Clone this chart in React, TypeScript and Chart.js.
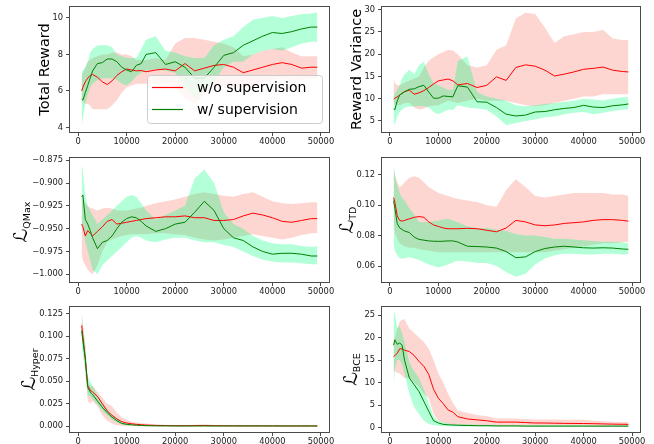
import React, { useEffect, useRef } from "react";
import { Chart, registerables } from "chart.js";

Chart.register(...registerables);

// ---------------- data ----------------
const STEPS = [
  750, 1000, 1500, 2000, 2500, 3000,
  4000, 5000, 6000, 7000, 8000, 9000, 10000, 11000, 12000, 13000, 14000,
  16000, 18000, 20000, 22000, 24000, 26000, 28000, 30000, 32000, 34000, 36000, 38000, 40000, 42000, 44000, 46000, 48000,
  49250,
];
const X_TICKS = [0, 10000, 20000, 30000, 40000, 50000];
const SERIES_NAMES = ["w/o supervision", "w/ supervision"];

// Total Reward
const TR_TICKS = [4, 6, 8, 10];
const TR_WO = [
  6.0, 6.2, 6.5, 6.7, 6.85, 6.9,
  6.75, 6.5, 6.35, 6.55, 6.85, 7.05, 7.2, 7.15, 7.1, 7.12, 7.05,
  7.15, 7.2, 7.1, 7.5, 7.1, 7.25, 7.4, 7.45, 7.3, 7.0, 7.15, 7.3, 7.45, 7.55, 7.45, 7.25, 7.3,
  7.3,
];
const TR_WO_LO = [
  5.5, 5.4, 5.3, 5.3, 5.2, 5.0,
  5.0, 5.0, 5.0, 5.2, 5.5, 5.9, 6.2, 6.3, 6.4, 6.4, 6.4,
  6.4, 6.4, 6.2, 5.6, 5.3, 5.8, 6.2, 6.3, 6.2, 6.0, 6.3, 6.5, 6.6, 6.7, 6.6, 6.6, 6.7,
  6.7,
];
const TR_WO_HI = [
  6.8, 7.0, 7.3, 7.6, 7.7, 7.8,
  7.9, 8.0, 8.0, 8.1, 8.1, 8.0, 8.0, 7.9, 7.7, 7.7, 7.7,
  7.8, 7.7, 8.6, 8.9, 8.9, 8.8, 8.7, 8.6, 8.4, 7.9, 8.0, 8.2, 8.3, 8.4, 8.1, 7.9, 7.9,
  7.9,
];
const TR_W = [
  5.55, 5.5, 5.9, 6.3, 6.7, 7.1,
  7.5, 7.55, 7.75, 7.75, 7.6, 7.3, 7.15, 7.05, 7.4, 7.5, 8.0,
  8.1, 7.45, 7.6, 7.3, 6.7, 6.7, 7.3, 7.95, 8.1, 8.5, 8.75, 9.0, 9.2, 9.15, 9.25, 9.4, 9.5,
  9.5,
];
const TR_W_LO = [
  4.1, 4.5, 5.3, 5.8, 6.2, 6.4,
  6.6, 6.7, 6.7, 6.7, 6.6, 6.4, 6.3, 6.5, 6.8, 7.0, 7.1,
  7.2, 7.1, 7.0, 6.3, 5.6, 6.0, 6.5, 7.3, 7.6, 7.6, 8.0, 8.2, 8.3, 8.2, 8.4, 8.6, 8.7,
  8.7,
];
const TR_W_HI = [
  7.1, 7.1, 7.3, 7.6, 8.1, 8.3,
  8.5, 8.5, 8.5, 8.4, 8.0, 7.9, 7.8, 7.8, 7.8, 8.3, 8.8,
  9.0, 8.2, 8.1, 7.9, 7.8, 7.8, 8.5, 8.8, 9.0, 9.5, 9.9, 10.0, 10.1, 10.0, 10.1, 10.2, 10.25,
  10.3,
];

// Reward Variance
const RV_TICKS = [5, 10, 15, 20, 25, 30];
const RV_WO = [
  9.9, 10.1, 10.4, 10.8, 11.2, 11.6,
  11.9, 11.0, 11.3, 11.8, 12.5, 13.3, 14.0, 14.2, 14.4, 14.0, 13.1,
  13.4, 12.5, 13.0, 14.9, 14.1, 17.0, 17.6, 17.3, 16.4, 15.1, 15.5, 16.0, 16.6, 16.8, 17.1, 16.4, 16.1,
  16.0,
];
const RV_WO_LO = [
  9.0, 8.8, 8.6, 8.5, 8.7, 9.0,
  9.0, 8.0, 7.5, 7.8, 8.3, 8.4, 8.5, 9.0, 9.5, 9.3, 9.0,
  9.5, 10.0, 9.5, 9.5, 9.5, 9.0, 8.5, 8.3, 8.5, 9.0, 9.5, 10.0, 10.5, 10.5, 11.0, 11.0, 11.0,
  11.0,
];
const RV_WO_HI = [
  14.8, 13.5, 13.0, 13.0, 13.3, 13.6,
  14.0, 14.5, 15.0, 17.0, 18.5, 19.3, 20.0, 20.5, 21.0, 20.8, 20.0,
  17.5, 17.0, 17.5, 21.0, 22.0, 28.0, 29.3, 29.0, 26.0, 22.5, 24.0, 24.5, 25.0, 25.0, 25.5, 23.5, 23.2,
  23.2,
];
const RV_W = [
  7.7, 7.5, 9.5, 10.8, 11.2, 11.5,
  12.1, 12.2, 12.7, 13.0, 11.5, 10.1, 10.1, 10.6, 10.5, 10.4, 12.9,
  12.6, 9.3, 9.2, 8.0, 6.5, 6.1, 6.3, 7.0, 7.1, 7.5, 7.8, 8.0, 8.5, 8.1, 8.0, 8.4, 8.6,
  8.8,
];
const RV_W_LO = [
  4.5, 4.2, 6.0, 7.0, 7.5, 8.0,
  8.2, 8.3, 8.3, 8.3, 8.0, 7.0, 6.5, 7.0, 7.5, 7.5, 8.5,
  8.0, 7.8, 7.5, 6.0, 4.0, 4.5, 5.0, 5.3, 5.8, 6.0, 6.5, 6.8, 7.0, 6.5, 6.8, 7.2, 7.5,
  7.6,
];
const RV_W_HI = [
  11.0, 11.0, 12.0, 13.0, 14.5, 15.5,
  16.5, 15.5, 17.5, 18.3, 15.5, 13.5, 13.0, 12.5, 12.0, 12.0, 18.5,
  19.5, 11.5, 10.5, 10.0, 9.5, 8.5, 8.3, 8.5, 8.8, 9.0, 9.3, 9.5, 10.0, 9.8, 9.6, 10.0, 10.3,
  10.3,
];

// L_QMax
const QM_TICKS = [-1.0, -0.975, -0.95, -0.925, -0.9, -0.875];
const QM_WO = [
  -0.945, -0.948, -0.958, -0.952, -0.955, -0.958,
  -0.953, -0.948, -0.942, -0.94, -0.945, -0.944, -0.943, -0.942, -0.941, -0.94, -0.939,
  -0.938, -0.937, -0.937, -0.936, -0.938, -0.938, -0.941, -0.941, -0.94, -0.936, -0.933, -0.935, -0.938, -0.942, -0.943, -0.941, -0.939,
  -0.939,
];
const QM_WO_LO = [
  -0.98, -0.985, -0.99, -0.995, -0.998, -1.0,
  -0.99, -0.975, -0.965, -0.962, -0.96, -0.958, -0.957, -0.956, -0.956, -0.956, -0.956,
  -0.955, -0.955, -0.956, -0.957, -0.96, -0.962, -0.963, -0.962, -0.96, -0.958, -0.956, -0.958, -0.96, -0.962, -0.96, -0.957, -0.955,
  -0.955,
];
const QM_WO_HI = [
  -0.915, -0.918, -0.922, -0.925, -0.927, -0.928,
  -0.93, -0.928, -0.927, -0.928, -0.93, -0.93, -0.93, -0.929, -0.928, -0.927, -0.925,
  -0.922, -0.92, -0.918, -0.915, -0.912, -0.91, -0.912, -0.914, -0.915, -0.912, -0.91, -0.915, -0.92, -0.922, -0.923, -0.922, -0.921,
  -0.921,
];
const QM_W = [
  -0.915, -0.913, -0.94, -0.945, -0.952, -0.96,
  -0.972, -0.965, -0.963, -0.958, -0.95, -0.943, -0.939, -0.937, -0.938, -0.942, -0.947,
  -0.953, -0.95, -0.945, -0.943, -0.932, -0.92, -0.93, -0.95, -0.96, -0.963, -0.97, -0.975, -0.978, -0.977, -0.977, -0.978, -0.98,
  -0.98,
];
const QM_W_LO = [
  -0.95, -0.945, -0.965, -0.975, -0.985, -0.995,
  -1.0, -0.99, -0.985, -0.98, -0.975, -0.97, -0.965, -0.96, -0.958, -0.96, -0.963,
  -0.965, -0.962, -0.96, -0.96, -0.963, -0.965, -0.965, -0.968, -0.97, -0.975, -0.98, -0.984, -0.986, -0.987, -0.987, -0.988, -0.989,
  -0.989,
];
const QM_W_HI = [
  -0.88, -0.885, -0.915, -0.925, -0.93, -0.935,
  -0.945, -0.94, -0.935, -0.93, -0.925, -0.92, -0.915, -0.913, -0.915, -0.922, -0.93,
  -0.94, -0.935, -0.93, -0.925, -0.895, -0.885, -0.9, -0.932, -0.945, -0.95, -0.958, -0.963, -0.966, -0.967, -0.967, -0.969, -0.97,
  -0.969,
];

// L_TD
const TD_TICKS = [0.06, 0.08, 0.1, 0.12];
const TD_WO = [
  0.105, 0.102, 0.093, 0.09, 0.0895, 0.09,
  0.091, 0.092, 0.0925, 0.092, 0.089, 0.087, 0.086, 0.085, 0.0845, 0.0845, 0.0845,
  0.0848, 0.0845, 0.0835, 0.0825, 0.085, 0.09, 0.089, 0.087, 0.0865, 0.087, 0.088, 0.0885, 0.089, 0.09, 0.0905, 0.0905, 0.09,
  0.0895,
];
const TD_WO_LO = [
  0.09, 0.082, 0.078, 0.075, 0.074, 0.073,
  0.072, 0.072, 0.071, 0.0705, 0.07, 0.0695, 0.069, 0.069, 0.069, 0.069, 0.069,
  0.069, 0.069, 0.069, 0.069, 0.069, 0.069, 0.069, 0.069, 0.069, 0.07, 0.071, 0.072, 0.073, 0.074, 0.075, 0.075, 0.0755,
  0.076,
];
const TD_WO_HI = [
  0.125, 0.12, 0.115, 0.112, 0.113, 0.115,
  0.118, 0.119, 0.118, 0.115, 0.112, 0.11, 0.108, 0.107, 0.106, 0.105, 0.104,
  0.103, 0.102, 0.1, 0.099, 0.11, 0.117, 0.112, 0.106, 0.105, 0.106, 0.107, 0.108, 0.108, 0.108, 0.108, 0.107, 0.107,
  0.106,
];
const TD_W = [
  0.103, 0.098, 0.088, 0.085, 0.084, 0.083,
  0.082, 0.079, 0.0775, 0.077, 0.0765, 0.0763, 0.0762, 0.0763, 0.0765, 0.0765, 0.0758,
  0.073, 0.0728, 0.0725, 0.0718, 0.0695, 0.0655, 0.066, 0.0695, 0.0715, 0.0725, 0.073, 0.0725, 0.072, 0.0718, 0.072, 0.0718, 0.0712,
  0.071,
];
const TD_W_LO = [
  0.075, 0.07, 0.067, 0.065, 0.065, 0.065,
  0.066, 0.065, 0.064, 0.0625, 0.061, 0.06, 0.059, 0.06, 0.061, 0.0625, 0.0635,
  0.063, 0.062, 0.062, 0.06, 0.056, 0.053, 0.055, 0.061, 0.065, 0.067, 0.068, 0.068, 0.0675, 0.0675, 0.068, 0.068, 0.0675,
  0.0675,
];
const TD_W_HI = [
  0.128, 0.12, 0.113, 0.108, 0.105, 0.103,
  0.098, 0.094, 0.089, 0.089, 0.089, 0.0895, 0.09, 0.0905, 0.091, 0.09, 0.089,
  0.086, 0.085, 0.085, 0.084, 0.083, 0.081, 0.08, 0.08, 0.079, 0.078, 0.078, 0.0775, 0.077, 0.0765, 0.076, 0.076, 0.0755,
  0.075,
];

// L_Hyper
const HY_TICKS = [0, 0.025, 0.05, 0.075, 0.1, 0.125];
const HY_WO = [
  0.112, 0.1, 0.075, 0.045, 0.04, 0.038,
  0.033, 0.025, 0.017, 0.012, 0.008, 0.005, 0.0035, 0.0027, 0.002, 0.0016, 0.0012,
  0.0008, 0.0006, 0.0005, 0.0005, 0.0006, 0.0007, 0.0005, 0.0004, 0.0004, 0.0003, 0.0003, 0.0003, 0.0003, 0.0002, 0.0002, 0.0002, 0.0002,
  0.0002,
];
const HY_WO_LO = [
  0.1, 0.09, 0.06, 0.028, 0.025, 0.028,
  0.022, 0.012, 0.006, 0.003, 0.001, 0.0005, 0, 0, 0, 0, 0,
  0, 0, 0, 0, 0, 0, 0, 0, 0, 0, 0, 0, 0, 0, 0, 0, 0,
  0,
];
const HY_WO_HI = [
  0.125, 0.115, 0.09, 0.05, 0.045, 0.045,
  0.038, 0.032, 0.025, 0.022, 0.015, 0.01, 0.007, 0.005, 0.004, 0.0035, 0.003,
  0.002, 0.0015, 0.001, 0.001, 0.0015, 0.002, 0.0012, 0.001, 0.0008, 0.0007, 0.0006, 0.0006, 0.0005, 0.0005, 0.0005, 0.0005, 0.0005,
  0.0005,
];
const HY_W = [
  0.106, 0.095, 0.075, 0.043, 0.038, 0.035,
  0.028, 0.021, 0.015, 0.01, 0.006, 0.003, 0.002, 0.0015, 0.001, 0.0008, 0.0005,
  0.0003, 0.0003, 0.0002, 0.0002, 0.0002, 0.0002, 0.0002, 0.0002, 0.0002, 0.0002, 0.0002, 0.0002, 0.0002, 0.0002, 0.0002, 0.0002, 0.0002,
  0.0002,
];
const HY_W_LO = [
  0.09, 0.08, 0.06, 0.035, 0.033, 0.03,
  0.024, 0.017, 0.012, 0.007, 0.004, 0.002, 0.001, 0.0007, 0.0005, 0.0003, 0.0002,
  0.0001, 0.0001, 0.0001, 0.0001, 0.0001, 0.0001, 0.0001, 0.0001, 0.0001, 0.0001, 0.0001, 0.0001, 0.0001, 0.0001, 0.0001, 0.0001, 0.0001,
  0.0001,
];
const HY_W_HI = [
  0.127, 0.11, 0.09, 0.055, 0.05, 0.045,
  0.034, 0.026, 0.019, 0.013, 0.009, 0.005, 0.003, 0.002, 0.0015, 0.0012, 0.0009,
  0.0006, 0.0005, 0.0004, 0.0004, 0.0004, 0.0004, 0.0004, 0.0004, 0.0004, 0.0004, 0.0004, 0.0004, 0.0004, 0.0004, 0.0004, 0.0004, 0.0004,
  0.0004,
];

// L_BCE
const BCE_TICKS = [0, 5, 10, 15, 20, 25];
const BCE_WO = [
  15.8, 16.0, 16.5, 17.5, 17.5, 17.2,
  16.9, 16.0, 14.7, 13.6, 11.8, 8.5, 6.5, 5.3, 3.9, 3.4, 2.4,
  1.9, 1.7, 1.5, 1.2, 1.2, 1.2, 1.1, 1.0, 1.0, 0.95, 0.92, 0.9, 0.88, 0.85, 0.8, 0.75, 0.72,
  0.7,
];
const BCE_WO_LO = [
  12.5, 12.5, 12.2, 12.0, 11.5, 11.0,
  11.0, 10.0, 9.0, 7.5, 6.5, 3.0, 1.5, 1.0, 0.8, 0.6, 0.5,
  0.5, 0.4, 0.4, 0.3, 0.3, 0.3, 0.3, 0.3, 0.3, 0.3, 0.3, 0.3, 0.3, 0.2, 0.2, 0.2, 0.2,
  0.2,
];
const BCE_WO_HI = [
  19.0, 20.0, 22.0, 23.5, 24.0, 24.0,
  22.0, 21.0, 20.0, 19.0, 17.5, 15.0, 12.0, 10.0, 7.5, 5.5, 3.8,
  3.2, 2.8, 2.5, 2.0, 2.0, 2.0, 1.9, 1.8, 1.8, 1.8, 1.7, 1.7, 1.7, 1.5, 1.4, 1.3, 1.2,
  1.2,
];
const BCE_W = [
  18.3, 19.5, 18.5, 18.8, 18.3, 15.0,
  11.0, 9.5, 8.0, 5.8, 3.6, 1.5, 1.0, 0.7, 0.6, 0.55, 0.5,
  0.45, 0.4, 0.4, 0.35, 0.35, 0.35, 0.3, 0.3, 0.3, 0.3, 0.3, 0.3, 0.3, 0.3, 0.3, 0.3, 0.3,
  0.3,
];
const BCE_W_LO = [
  9.0, 13.0, 15.0, 15.0, 14.0, 12.0,
  7.5, 4.5, 3.0, 1.5, 0.8, 0.5, 0.4, 0.35, 0.3, 0.3, 0.3,
  0.25, 0.2, 0.2, 0.2, 0.2, 0.2, 0.2, 0.2, 0.2, 0.2, 0.2, 0.2, 0.2, 0.2, 0.2, 0.2, 0.2,
  0.2,
];
const BCE_W_HI = [
  25.5, 25.5, 22.0, 22.5, 21.0, 19.0,
  14.5, 12.5, 11.0, 8.5, 5.5, 2.5, 1.5, 1.1, 0.9, 0.8, 0.75,
  0.7, 0.6, 0.6, 0.55, 0.5, 0.5, 0.5, 0.5, 0.5, 0.5, 0.5, 0.5, 0.5, 0.5, 0.5, 0.5, 0.5,
  0.5,
];

// ---------------- style ----------------
const FONT = '"DejaVu Sans", "Liberation Sans", sans-serif';
const RED = "#ff0000";
const GREEN = "#008000";
const RED_BAND = "rgba(250,128,114,0.32)";
const GREEN_BAND = "rgba(0,255,127,0.3)";
const SPINE = "#4a4a4a";
const TICK_TEXT = "#222222";
const X_MIN = -1650;
const X_MAX = 51650;

const plainFmt = (v: number) => String(v);
const minusFmt = (d: number) => (v: number) => (v < 0 ? "\u2212" : "") + Math.abs(v).toFixed(d);

type Label =
  | { kind: "plain"; text: string; x: number; y: number }
  | { kind: "math"; main: string; sub: string; x: number; y: number };

interface PanelCfg {
  key: string;
  canvas: { x: number; y: number; w: number; h: number };
  plot: { l: number; r: number; t: number; b: number };
  yMin: number;
  yMax: number;
  yTicks: number[];
  fmt: (v: number) => string;
  label: Label;
  legend?: boolean;
  wo: number[];
  woLo: number[];
  woHi: number[];
  w: number[];
  wLo: number[];
  wHi: number[];
}

const PANELS: PanelCfg[] = [
  {
    key: "tr",
    canvas: { x: 0, y: 0, w: 335, h: 150 },
    plot: { l: 70, r: 329, t: 7, b: 132 },
    yMin: 3.75, yMax: 10.6, yTicks: TR_TICKS, fmt: plainFmt,
    label: { kind: "plain", text: "Total Reward", x: 49, y: 69.5 },
    legend: true,
    wo: TR_WO, woLo: TR_WO_LO, woHi: TR_WO_HI, w: TR_W, wLo: TR_W_LO, wHi: TR_W_HI,
  },
  {
    key: "rv",
    canvas: { x: 335, y: 0, w: 319, h: 150 },
    plot: { l: 382, r: 640, t: 7, b: 132 },
    yMin: 2.5, yMax: 30.6, yTicks: RV_TICKS, fmt: plainFmt,
    label: { kind: "plain", text: "Reward Variance", x: 361, y: 69.5 },
    wo: RV_WO, woLo: RV_WO_LO, woHi: RV_WO_HI, w: RV_W, wLo: RV_W_LO, wHi: RV_W_HI,
  },
  {
    key: "qm",
    canvas: { x: 0, y: 145, w: 335, h: 155 },
    plot: { l: 70, r: 329, t: 158, b: 282 },
    yMin: -1.0085, yMax: -0.8725, yTicks: QM_TICKS, fmt: minusFmt(3),
    label: { kind: "math", main: "\u2112", sub: "QMax", x: 27, y: 222 },
    wo: QM_WO, woLo: QM_WO_LO, woHi: QM_WO_HI, w: QM_W, wLo: QM_W_LO, wHi: QM_W_HI,
  },
  {
    key: "td",
    canvas: { x: 335, y: 145, w: 319, h: 155 },
    plot: { l: 382, r: 640, t: 158, b: 282 },
    yMin: 0.0495, yMax: 0.131, yTicks: TD_TICKS, fmt: minusFmt(2),
    label: { kind: "math", main: "\u2112", sub: "TD", x: 353, y: 220 },
    wo: TD_WO, woLo: TD_WO_LO, woHi: TD_WO_HI, w: TD_W, wLo: TD_W_LO, wHi: TD_W_HI,
  },
  {
    key: "hy",
    canvas: { x: 0, y: 295, w: 335, h: 149 },
    plot: { l: 70, r: 329, t: 307, b: 432 },
    yMin: -0.0065, yMax: 0.1325, yTicks: HY_TICKS, fmt: minusFmt(3),
    label: { kind: "math", main: "\u2112", sub: "Hyper", x: 35, y: 369.5 },
    wo: HY_WO, woLo: HY_WO_LO, woHi: HY_WO_HI, w: HY_W, wLo: HY_W_LO, wHi: HY_W_HI,
  },
  {
    key: "bce",
    canvas: { x: 335, y: 295, w: 319, h: 149 },
    plot: { l: 382, r: 640, t: 307, b: 432 },
    yMin: -1.0, yMax: 26.8, yTicks: BCE_TICKS, fmt: plainFmt,
    label: { kind: "math", main: "\u2112", sub: "BCE", x: 357, y: 369.5 },
    wo: BCE_WO, woLo: BCE_WO_LO, woHi: BCE_WO_HI, w: BCE_W, wLo: BCE_W_LO, wHi: BCE_W_HI,
  },
];

function toPts(ys: number[]) {
  return STEPS.map((x, i) => ({ x, y: ys[i] }));
}

const MAIN_SIZE = 19;
const SUB_SIZE = 9.5;

function makeDeco(p: PanelCfg) {
  return {
    id: "deco_" + p.key,
    afterDraw(chart: any) {
      const ctx: CanvasRenderingContext2D = chart.ctx;
      const a = chart.chartArea;
      ctx.save();
      // spines
      ctx.strokeStyle = SPINE;
      ctx.lineWidth = 1;
      ctx.strokeRect(
        Math.round(a.left) - 0.5,
        Math.round(a.top) - 0.5,
        Math.round(a.right - a.left) + 1,
        Math.round(a.bottom - a.top) + 1
      );
      // y label
      const L = p.label;
      ctx.translate(L.x - p.canvas.x, L.y - p.canvas.y);
      ctx.rotate(-Math.PI / 2);
      ctx.fillStyle = "#000";
      ctx.textBaseline = "alphabetic";
      if (L.kind === "plain") {
        ctx.font = `14.5px ${FONT}`;
        ctx.textAlign = "center";
        ctx.fillText(L.text, 0, 0);
      } else {
        ctx.font = `${MAIN_SIZE}px ${FONT}`;
        const w1 = ctx.measureText(L.main).width;
        ctx.font = `${SUB_SIZE}px ${FONT}`;
        const w2 = ctx.measureText(L.sub).width;
        const start = -(w1 + w2) / 2;
        ctx.textAlign = "left";
        ctx.font = `${MAIN_SIZE}px ${FONT}`;
        ctx.fillText(L.main, start, 0);
        ctx.font = `${SUB_SIZE}px ${FONT}`;
        ctx.fillText(L.sub, start + w1, 3);
      }
      ctx.restore();

      if (p.legend) {
        ctx.save();
        const ox = -p.canvas.x;
        const oy = -p.canvas.y;
        ctx.beginPath();
        (ctx as any).roundRect(147.5 + ox, 75.5 + oy, 175, 48, 3);
        ctx.fillStyle = "rgba(255,255,255,0.8)";
        ctx.fill();
        ctx.strokeStyle = "#cccccc";
        ctx.lineWidth = 1;
        ctx.stroke();
        const rows = [
          { color: RED, y: 87.5, text: SERIES_NAMES[0] },
          { color: GREEN, y: 109.5, text: SERIES_NAMES[1] },
        ];
        ctx.font = `14px ${FONT}`;
        ctx.textBaseline = "middle";
        ctx.textAlign = "left";
        for (const r of rows) {
          ctx.strokeStyle = r.color;
          ctx.lineWidth = 1.2;
          ctx.beginPath();
          ctx.moveTo(152 + ox, r.y + oy);
          ctx.lineTo(183 + ox, r.y + oy);
          ctx.stroke();
          ctx.fillStyle = "#000";
          ctx.fillText(r.text, 197 + ox, r.y + oy + 0.5);
        }
        ctx.restore();
      }
    },
  };
}

function Panel({ p }: { p: PanelCfg }) {
  const ref = useRef<HTMLCanvasElement>(null);
  useEffect(() => {
    if (!ref.current) return;
    const padTop = p.plot.t - p.canvas.y;
    const padRight = p.canvas.w - (p.plot.r - p.canvas.x);
    const yAxisW = p.plot.l - p.canvas.x;
    const xAxisH = p.canvas.y + p.canvas.h - p.plot.b;
    const band = (data: number[], color: string | null, order: number) => ({
      data: toPts(data),
      borderColor: "transparent",
      borderWidth: 1,
      backgroundColor: color || "transparent",
      fill: color ? "+1" : false,
      pointRadius: 0,
      order,
    });
    const chart = new Chart(ref.current, {
      type: "line",
      data: {
        datasets: [
          band(p.woHi, RED_BAND, 6),
          band(p.woLo, null, 5),
          band(p.wHi, GREEN_BAND, 4),
          band(p.wLo, null, 3),
          {
            label: SERIES_NAMES[0],
            data: toPts(p.wo),
            borderColor: RED,
            borderWidth: 1,
            pointRadius: 0,
            fill: false,
            order: 2,
          },
          {
            label: SERIES_NAMES[1],
            data: toPts(p.w),
            borderColor: GREEN,
            borderWidth: 1,
            pointRadius: 0,
            fill: false,
            order: 1,
          },
        ] as any,
      },
      options: {
        animation: false,
        responsive: false,
        devicePixelRatio: 1,
        events: [],
        layout: { padding: { left: 0, top: padTop, right: padRight, bottom: 0 } },
        plugins: { legend: { display: false }, tooltip: { enabled: false } },
        scales: {
          x: {
            type: "linear",
            min: X_MIN,
            max: X_MAX,
            bounds: "data",
            afterBuildTicks: (ax: any) => {
              ax.ticks = X_TICKS.map((v) => ({ value: v }));
            },
            afterFit: (ax: any) => {
              ax.height = xAxisH;
              ax.paddingLeft = 0;
              ax.paddingRight = 0;
            },
            ticks: {
              autoSkip: false,
              maxRotation: 0,
              minRotation: 0,
              padding: 1,
              color: TICK_TEXT,
              font: { family: FONT, size: 8.3 },
              callback: (v: any) => String(v),
            },
            grid: {
              display: true,
              drawOnChartArea: false,
              drawTicks: true,
              tickLength: 4,
              tickColor: SPINE,
              tickWidth: 1,
            },
            border: { display: false },
          },
          y: {
            type: "linear",
            min: p.yMin,
            max: p.yMax,
            bounds: "data",
            afterBuildTicks: (ax: any) => {
              ax.ticks = p.yTicks.map((v) => ({ value: v }));
            },
            afterFit: (ax: any) => {
              ax.width = yAxisW;
              ax.paddingTop = 0;
              ax.paddingBottom = 0;
            },
            ticks: {
              autoSkip: false,
              padding: 3,
              color: TICK_TEXT,
              font: { family: FONT, size: 8.3 },
              callback: (v: any) => p.fmt(Number(v)),
            },
            grid: {
              display: true,
              drawOnChartArea: false,
              drawTicks: true,
              tickLength: 4,
              tickColor: SPINE,
              tickWidth: 1,
            },
            border: { display: false },
          },
        },
      } as any,
      plugins: [makeDeco(p)],
    });
    return () => chart.destroy();
  }, [p]);
  return (
    <canvas
      ref={ref}
      width={p.canvas.w}
      height={p.canvas.h}
      style={{
        position: "absolute",
        left: p.canvas.x,
        top: p.canvas.y,
        width: p.canvas.w,
        height: p.canvas.h,
      }}
    />
  );
}

export default function App() {
  return (
    <div
      style={{
        position: "absolute",
        left: 0,
        top: 0,
        width: 654,
        height: 444,
        background: "#ffffff",
        overflow: "hidden",
      }}
    >
      {PANELS.map((p) => (
        <Panel key={p.key} p={p} />
      ))}
    </div>
  );
}
